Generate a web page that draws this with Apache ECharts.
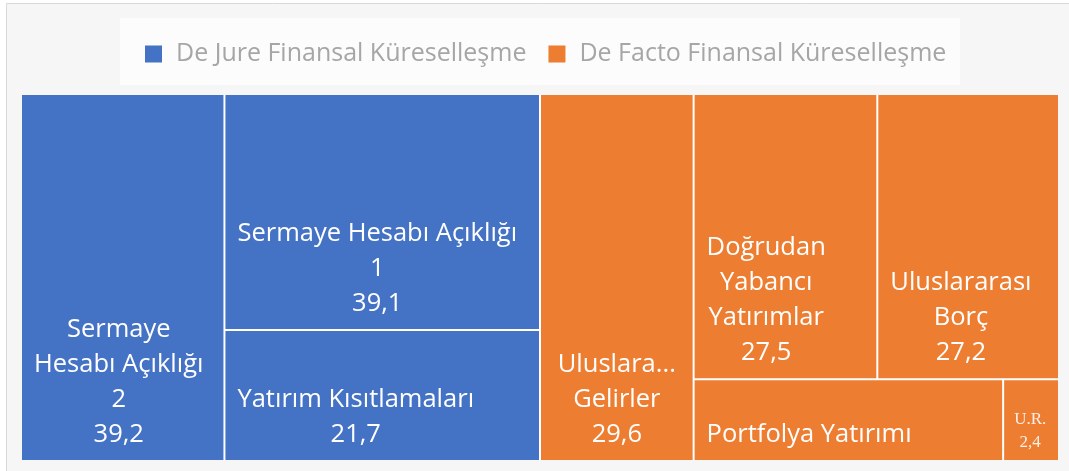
<!DOCTYPE html>
<html><head><meta charset="utf-8">
<script src="https://cdn.jsdelivr.net/npm/echarts@6/dist/echarts.min.js"></script>
<style>html,body{margin:0;padding:0;background:#fff}#c{width:1069px;height:471px}</style>
</head><body><div id="c"></div>
<script>
// ---- data ----
const groupNames = ['De Jure Finansal Küreselleşme', 'De Facto Finansal Küreselleşme'];
const groupColors = ['#4472C4', '#ED7D31'];
const deJureNames = ['Sermaye Hesabı Açıklığı 2', 'Sermaye Hesabı Açıklığı 1', 'Yatırım Kısıtlamaları'];
const deJureLabels = ['Sermaye\nHesabı Açıklığı\n2', 'Sermaye Hesabı Açıklığı\n1', 'Yatırım Kısıtlamaları'];
const deJureValues = [39.2, 39.1, 21.7];
const deJureShowValue = [true, true, true];
const deFactoNames = ['Uluslararası Gelirler', 'Doğrudan Yabancı Yatırımlar', 'Uluslararası Borç', 'Portfolya Yatırımı', 'U.R.'];
const deFactoLabels = ['Uluslararası\nGelirler', 'Doğrudan\nYabancı\nYatırımlar', 'Uluslararası\nBorç', 'Portfolya Yatırımı', 'U.R.'];
const deFactoValues = [29.6, 27.5, 27.2, 13.3, 2.4];
const deFactoShowValue = [true, true, true, false, true];

// ---- style ----
const FONT = 'Open Sans', FS = 25.5, LH = 35, DIST = 8, PADX = 12;
const SFONT = 'Liberation Serif', SFS = 17, SLH = 23, SDIST = 6, SPADX = 10;

const fmt = v => String(v).replace('.', ',');
const ctx = document.createElement('canvas').getContext('2d');
function textW(s, fs, fam) { ctx.font = fs + 'px "' + fam + '"'; return ctx.measureText(s).width; }

function labelCfg(text, cellW) {
  if (cellW == null) return {};
  const small = cellW < 80;
  const fs = small ? SFS : FS, fam = small ? SFONT : FONT;
  const padx = small ? SPADX : PADX, dist = small ? SDIST : DIST;
  let w = Math.max.apply(null, text.split('\n').map(l => textW(l, fs, fam)));
  w = Math.min(w, cellW - 2 * padx);
  const cfg = { offset: [padx - dist + w / 2, 0], distance: dist, padding: [0, padx, 0, padx] };
  if (small) Object.assign(cfg, { fontFamily: fam, fontSize: fs, lineHeight: SLH, color: '#fdf0e8' });
  return cfg;
}

function mkLeaf(names, labels, values, showV, color, i, widths) {
  const text = labels[i] + (showV[i] ? '\n' + fmt(values[i]) : '');
  return {
    name: names[i], value: values[i], labelText: text,
    itemStyle: { color: color },
    label: labelCfg(text, widths ? widths[names[i]] : null)
  };
}

function buildTree(widths) {
  const jl = i => mkLeaf(deJureNames, deJureLabels, deJureValues, deJureShowValue, groupColors[0], i, widths);
  const fl = i => mkLeaf(deFactoNames, deFactoLabels, deFactoValues, deFactoShowValue, groupColors[1], i, widths);
  return [
    { name: groupNames[0], itemStyle: { color: groupColors[0] },
      children: deJureValues.map((v, i) => jl(i)) },
    { name: groupNames[1], itemStyle: { color: groupColors[1] },
      children: [
        fl(0),
        { name: '', itemStyle: { color: groupColors[1] }, children: [
          { name: '', itemStyle: { color: groupColors[1] }, children: [fl(1), fl(2)] },
          { name: '', itemStyle: { color: groupColors[1] }, children: [fl(3), fl(4)] }
        ] }
      ] }
  ];
}

const chart = echarts.init(document.getElementById('c'), null, { renderer: 'canvas' });

function makeOption(widths) {
  return {
    backgroundColor: '#ffffff',
    animation: false,
    graphic: { elements: [
      { type: 'rect', z: -10, silent: true, shape: { x: 6.5, y: 3.5, width: 1080, height: 480 },
        style: { fill: '#f6f6f6', stroke: '#d9d9d9', lineWidth: 1 } },
      { type: 'rect', z: -9, silent: true, shape: { x: 120, y: 18, width: 840, height: 67 },
        style: { fill: '#fcfcfc' } }
    ] },
    legend: {
      left: 145, top: 36, padding: 0, itemGap: 22,
      icon: 'rect', itemWidth: 17, itemHeight: 17,
      textStyle: { color: '#a6a6a6', fontFamily: FONT, fontSize: 25, lineHeight: 30, padding: [6, 0, 0, 9] },
      data: groupNames
    },
    xAxis: { show: false, type: 'category', data: [] },
    yAxis: { show: false, type: 'value' },
    grid: { left: 0, top: 0, width: 1, height: 1 },
    series: [
      {
        type: 'treemap',
        left: 22, top: 95, width: 1036, height: 365,
        roam: false, nodeClick: false, sort: false, squareRatio: 1,
        breadcrumb: { show: false },
        itemStyle: { borderWidth: 0, gapWidth: 2, borderColor: '#ffffff' },
        emphasis: { disabled: true },
        label: {
          show: true, position: 'insideBottomLeft', distance: DIST,
          align: 'center', verticalAlign: 'bottom',
          padding: [0, PADX, 0, PADX],
          color: '#ffffff', fontFamily: FONT, fontSize: FS, lineHeight: LH,
          overflow: 'truncate', ellipsis: '...',
          formatter: p => p.data.labelText
        },
        upperLabel: { show: false },
        data: buildTree(widths)
      },
      { type: 'line', name: groupNames[0], data: [], itemStyle: { color: groupColors[0] } },
      { type: 'line', name: groupNames[1], data: [], itemStyle: { color: groupColors[1] } }
    ]
  };
}

chart.setOption(makeOption(null));
// read cell widths computed by the treemap layout, then place labels
const widths = {};
try {
  const tree = chart.getModel().getSeriesByIndex(0).getData().tree;
  tree.root.eachNode(n => {
    if (!n.children || !n.children.length) {
      const l = n.getLayout();
      if (l) widths[n.name] = l.width;
    }
  });
} catch (e) { console.log(e); }
chart.setOption(makeOption(widths), true);
</script></body></html>
